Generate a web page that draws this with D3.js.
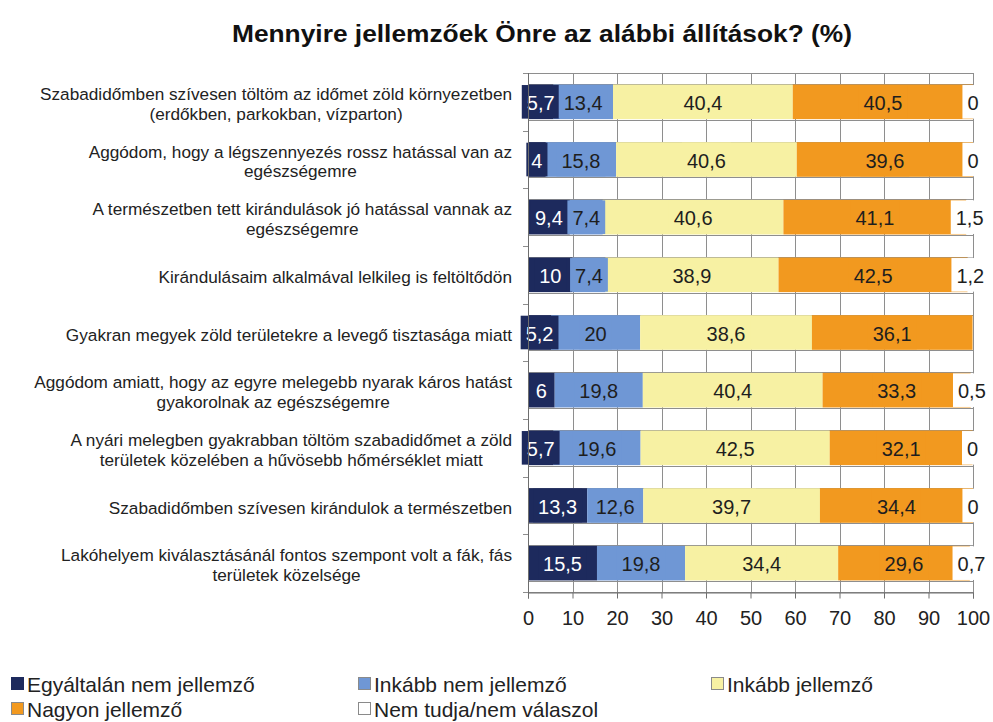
<!DOCTYPE html>
<html>
<head>
<meta charset="utf-8">
<script src="https://cdn.jsdelivr.net/npm/d3@7"></script>
<style>
  html, body { margin: 0; padding: 0; background: #ffffff; }
  svg { display: block; font-family: "Liberation Sans", Arial, sans-serif; }
</style>
</head>
<body>
<svg id="chart" width="993" height="722"></svg>
<script>
// Statements (each entry is one category, split into its display lines)
const categories = [
  ["Szabadidőmben szívesen töltöm az időmet zöld környezetben", "(erdőkben, parkokban, vízparton)"],
  ["Aggódom, hogy a légszennyezés rossz hatással van az", "egészségemre"],
  ["A természetben tett kirándulások jó hatással vannak az", "egészségemre"],
  ["Kirándulásaim alkalmával lelkileg is feltöltődön"],
  ["Gyakran megyek zöld területekre a levegő tisztasága miatt"],
  ["Aggódom amiatt, hogy az egyre melegebb nyarak káros hatást", "gyakorolnak az egészségemre"],
  ["A nyári melegben gyakrabban töltöm szabadidőmet a zöld", "területek közelében a hűvösebb hőmérséklet miatt"],
  ["Szabadidőmben szívesen kirándulok a természetben"],
  ["Lakóhelyem kiválasztásánál fontos szempont volt a fák, fás", "területek közelsége"]
];

const seriesNames = [
  "Egyáltalán nem jellemző",
  "Inkább nem jellemző",
  "Inkább jellemző",
  "Nagyon jellemző",
  "Nem tudja/nem válaszol"
];

// Percentages per series, in category order
const egyaltalanNem = [5.7, 4, 9.4, 10, 5.2, 6, 5.7, 13.3, 15.5];
const inkabbNem     = [13.4, 15.8, 7.4, 7.4, 20, 19.8, 19.6, 12.6, 19.8];
const inkabb        = [40.4, 40.6, 40.6, 38.9, 38.6, 40.4, 42.5, 39.7, 34.4];
const nagyon        = [40.5, 39.6, 41.1, 42.5, 36.1, 33.3, 32.1, 34.4, 29.6];
const nemTudja      = [0, 0, 1.5, 1.2, null, 0.5, 0, 0, 0.7];

const xTicks = [0, 10, 20, 30, 40, 50, 60, 70, 80, 90, 100];

const title = "Mennyire jellemzőek Önre az alábbi állítások? (%)";

const seriesValues = [egyaltalanNem, inkabbNem, inkabb, nagyon, nemTudja];
const colors = ["#1d2a5d", "#6f97d5", "#f7f1a3", "#f2991f", "#ffffff"];
const labelColors = ["#ffffff", "#1e1e1e", "#1e1e1e", "#1e1e1e", "#1e1e1e"];

const svg = d3.select("#chart");
const plot = { left: 528, right: 973, top: 73, bottom: 592 };

const x = d3.scaleLinear().domain([0, 100]).range([plot.left, plot.right]);
const y = d3.scaleBand()
  .domain(d3.range(categories.length))
  .range([plot.top, plot.bottom])
  .paddingInner(0.4)
  .paddingOuter(0.2);

const fmt = v => String(v).replace(".", ",");
const gridColor = "#8e8e8e";

// Title
svg.append("text")
  .attr("x", 542).attr("y", 33)
  .attr("text-anchor", "middle")
  .attr("dominant-baseline", "central")
  .attr("font-size", 24).attr("font-weight", "bold")
  .attr("fill", "#111")
  .attr("textLength", 620).attr("lengthAdjust", "spacingAndGlyphs")
  .text(title);

// Vertical gridlines
svg.append("g").selectAll("line")
  .data(xTicks)
  .join("line")
  .attr("x1", d => Math.round(x(d)) + 0.5).attr("x2", d => Math.round(x(d)) + 0.5)
  .attr("y1", plot.top).attr("y2", plot.bottom)
  .attr("stroke", gridColor).attr("stroke-width", 1);

// Horizontal rules at the top and bottom edges of each bar row
const edgeG = svg.append("g");
categories.forEach((c, i) => {
  [y(i) - 0.5, y(i) + y.bandwidth() + 0.5].forEach(yy => {
    edgeG.append("line")
      .attr("x1", plot.left).attr("x2", plot.right)
      .attr("y1", Math.round(yy) + 0.5).attr("y2", Math.round(yy) + 0.5)
      .attr("stroke", gridColor).attr("stroke-width", 1);
  });
});

// Plot frame
svg.append("rect")
  .attr("x", plot.left + 0.5).attr("y", plot.top + 0.5)
  .attr("width", plot.right - plot.left).attr("height", plot.bottom - plot.top)
  .attr("fill", "none").attr("stroke", gridColor).attr("stroke-width", 1);

// Stack the series
const stackData = categories.map((c, i) => {
  const o = { i };
  seriesValues.forEach((arr, s) => { o["s" + s] = arr[i] == null ? 0 : arr[i]; });
  return o;
});
const stack = d3.stack().keys(seriesValues.map((a, s) => "s" + s));
const stacked = stack(stackData);

// Bar segments
stacked.forEach((layer, s) => {
  svg.append("g").selectAll("rect")
    .data(layer)
    .join("rect")
    .attr("x", d => x(d[0]))
    .attr("width", d => x(d[1]) - x(d[0]))
    .attr("y", d => y(d.data.i))
    .attr("height", y.bandwidth())
    .attr("fill", colors[s]);
});

// Data labels with a filled box in the series colour
const labelSize = 20;
stacked.forEach((layer, s) => {
  const g = svg.append("g");
  layer.forEach(d => {
    const v = seriesValues[s][d.data.i];
    if (v == null) return;
    const cx = (x(d[0]) + x(d[1])) / 2;
    const cy = y(d.data.i) + y.bandwidth() / 2;
    const t = g.append("text")
      .attr("x", cx).attr("y", cy + 1)
      .attr("text-anchor", "middle")
      .attr("dominant-baseline", "central")
      .attr("font-size", labelSize)
      .attr("fill", labelColors[s])
      .text(fmt(v));
    const w = t.node().getComputedTextLength();
    const pad = 5;
    g.insert("rect", () => t.node())
      .attr("x", cx - w / 2 - pad).attr("width", w + 2 * pad)
      .attr("y", y(d.data.i) + 0.5).attr("height", y.bandwidth() - 1)
      .attr("fill", colors[s]);
  });
});

// Left axis ticks at category boundaries
const bounds = d3.range(categories.length + 1).map(k => plot.top + k * y.step());
svg.append("g").selectAll("line")
  .data(bounds)
  .join("line")
  .attr("x1", plot.left - 5).attr("x2", plot.left)
  .attr("y1", d => Math.round(d) + 0.5).attr("y2", d => Math.round(d) + 0.5)
  .attr("stroke", gridColor);
svg.append("line")
  .attr("x1", plot.left + 0.5).attr("x2", plot.left + 0.5)
  .attr("y1", plot.top).attr("y2", plot.bottom + 1)
  .attr("stroke", "#6e6e6e");

// Bottom axis
const xAxis = d3.axisBottom(x).tickValues(xTicks).tickSize(6).tickPadding(12).tickFormat(d => d);
const ax = svg.append("g")
  .attr("transform", `translate(0,${plot.bottom + 0.5})`)
  .call(xAxis);
ax.select(".domain").attr("stroke", "#6e6e6e");
ax.selectAll(".tick line").attr("stroke", "#6e6e6e");
ax.selectAll(".tick text")
  .attr("font-size", 20)
  .attr("font-family", "Liberation Sans, Arial, sans-serif")
  .attr("fill", "#222");

// Category labels: block right-aligned, lines centred within the block
const catSize = 17.2;
const lineGap = 19.5;
categories.forEach((lines, i) => {
  const cy = y(i) + y.bandwidth() / 2 + 2;
  const g = svg.append("g");
  const texts = lines.map((ln, k) => g.append("text")
    .attr("font-size", catSize)
    .attr("fill", "#222")
    .attr("text-anchor", "middle")
    .attr("dominant-baseline", "central")
    .attr("y", cy + (k - (lines.length - 1) / 2) * lineGap)
    .text(ln));
  const widths = texts.map(t => t.node().getComputedTextLength());
  const blockW = d3.max(widths);
  const right = 512;
  texts.forEach(t => t.attr("x", right - blockW / 2));
});

// Legend
const legendPos = [
  { x: 11, y: 684 }, { x: 358, y: 684 }, { x: 711, y: 684 },
  { x: 11, y: 709 }, { x: 358, y: 709 }
];
seriesNames.forEach((name, s) => {
  const p = legendPos[s];
  svg.append("rect")
    .attr("x", p.x + 0.5).attr("y", p.y - 6.5)
    .attr("width", 12).attr("height", 12)
    .attr("fill", colors[s])
    .attr("stroke", s === 0 ? colors[0] : "#8a8a8a").attr("stroke-width", 1);
  svg.append("text")
    .attr("x", p.x + 16).attr("y", p.y)
    .attr("dominant-baseline", "central")
    .attr("font-size", 21)
    .attr("fill", "#222")
    .text(name);
});
</script>
</body>
</html>
